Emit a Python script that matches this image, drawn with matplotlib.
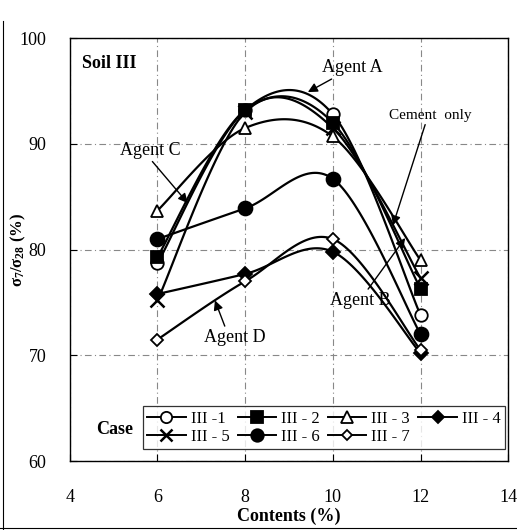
import matplotlib
matplotlib.use('Agg')
import matplotlib.pyplot as plt
from matplotlib.lines import Line2D
import numpy as np

plt.rcParams['font.family'] = ['Liberation Serif', 'DejaVu Serif']
plt.rcParams['mathtext.fontset'] = 'custom'
plt.rcParams['mathtext.rm'] = 'Liberation Serif:bold'
plt.rcParams['mathtext.it'] = 'Liberation Serif:bold'

contents = [6, 8, 10, 12]
case_labels = ['III -1', 'III - 2', 'III - 3', 'III - 4', 'III - 5', 'III - 6', 'III - 7']
iii_1 = [78.7, 93.2, 92.8, 73.8]
iii_2 = [79.3, 93.2, 92.0, 76.3]
iii_3 = [83.7, 91.5, 90.7, 79.0]
iii_4 = [75.8, 77.7, 79.8, 70.2]
iii_5 = [75.2, 93.0, 91.5, 77.3]
iii_6 = [81.0, 83.9, 86.7, 72.0]
iii_7 = [71.5, 77.0, 81.0, 70.5]
series = [iii_1, iii_2, iii_3, iii_4, iii_5, iii_6, iii_7]

# marker, filled?, size
styles = [('o', False, 9), ('s', True, 9), ('^', False, 9), ('D', True, 7),
          ('x', True, 10), ('o', True, 10), ('D', False, 6)]


def smooth(x, y, n=40):
    # excel-like smoothed line (bezier through the points)
    pts = np.column_stack([x, y]).astype(float)
    out = []
    for i in range(len(pts) - 1):
        p0 = pts[i - 1] if i > 0 else pts[i]
        p1 = pts[i]
        p2 = pts[i + 1]
        p3 = pts[i + 2] if i + 2 < len(pts) else pts[i + 1]
        c1 = p1 + (p2 - p0) / 6
        c2 = p2 - (p3 - p1) / 6
        t = np.linspace(0, 1, n)[:, None]
        seg = (1 - t)**3 * p1 + 3 * (1 - t)**2 * t * c1 + 3 * (1 - t) * t**2 * c2 + t**3 * p2
        out.append(seg if i == 0 else seg[1:])
    return np.vstack(out)


fig = plt.figure(figsize=(5.17, 5.30), dpi=100)
ax = fig.add_axes([0.135, 0.130, 0.848, 0.798])

handles = []
for vals, lab, (mk, filled, ms) in zip(series, case_labels, styles):
    s = smooth(contents, vals)
    ax.plot(s[:, 0], s[:, 1], color='black', lw=1.6, zorder=3)
    fc = 'black' if filled else 'white'
    ax.plot(contents, vals, ls='none', marker=mk, ms=ms, mfc=fc, mec='black',
            mew=1.3 if mk != 'x' else 1.8, zorder=4)
    handles.append(Line2D([], [], color='black', lw=1.4, marker=mk, ms=ms, mfc=fc,
                          mec='black', mew=1.3 if mk != 'x' else 1.8))

ax.set_xlim(4, 14)
ax.set_ylim(60, 100)
ax.set_xticks([4, 6, 8, 10, 12, 14])
ax.set_yticks([60, 70, 80, 90, 100])
ax.tick_params(direction='in', length=5, labelsize=13, width=0.8)
ax.tick_params(axis='x', pad=20)
ax.tick_params(axis='y', pad=17)
ax.grid(True, color='#888888', ls=(0, (6, 3, 1, 3)), lw=0.8)
ax.set_axisbelow(True)
for sp in ax.spines.values():
    sp.set_linewidth(1.0)

ax.set_xlabel('Contents (%)', fontsize=13, fontweight='bold', labelpad=1)
ax.set_ylabel(r'$\sigma_7/\sigma_{28}$ (%)', fontsize=12, fontweight='bold')
ax.yaxis.set_label_coords(-0.096, 0.5)

ax.text(4.27, 97.6, 'Soil III', fontsize=13, fontweight='bold', va='center', ha='left')
ax.text(5.03, 63.0, 'Case', fontsize=13, fontweight='bold', va='center', ha='center')

# legend fills column by column, so reorder to read row by row
order = [0, 4, 1, 5, 2, 6, 3]
leg = ax.legend([handles[i] for i in order], [case_labels[i] for i in order], ncol=4,
                loc='lower right', bbox_to_anchor=(0.992, 0.028),
                fontsize=12, frameon=True, fancybox=False, edgecolor='black',
                handlelength=2.3, handletextpad=0.3, columnspacing=0.5,
                borderpad=0.25, labelspacing=0.15, borderaxespad=0, markerscale=0.9)
leg.get_frame().set_linewidth(0.9)
leg.set_zorder(6)

arrow = dict(arrowstyle='-|>', color='black', lw=1.0, mutation_scale=14, shrinkA=0, shrinkB=0)
ax.annotate('Agent A', xy=(9.43, 94.9), xytext=(10.44, 97.2), fontsize=13,
            ha='center', va='center', arrowprops=arrow, zorder=7)
ax.annotate('Cement  only', xy=(11.37, 82.3), xytext=(12.22, 92.7), fontsize=11,
            ha='center', va='center', arrowprops=dict(arrow, relpos=(0.45, 0.0)), zorder=7)
ax.annotate('Agent C', xy=(6.69, 84.4), xytext=(5.83, 89.4), fontsize=13,
            ha='center', va='center', arrowprops=dict(arrow, relpos=(0.5, 0.0)), zorder=7)
ax.annotate('Agent B', xy=(11.65, 81.1), xytext=(10.62, 75.2), fontsize=13,
            ha='center', va='center', arrowprops=dict(arrow, relpos=(0.6, 1.0)), zorder=7)
ax.annotate('Agent D', xy=(7.31, 75.2), xytext=(7.77, 71.7), fontsize=13,
            ha='center', va='center', arrowprops=dict(arrow, relpos=(0.35, 1.0)), zorder=7)

# scanned page frame on left and bottom
fig.add_artist(Line2D([0.006, 0.006], [0.0, 0.96], color='black', lw=0.8))
fig.add_artist(Line2D([0.0, 1.0], [0.004, 0.004], color='black', lw=0.8))

fig.savefig('out.png', dpi=100)
